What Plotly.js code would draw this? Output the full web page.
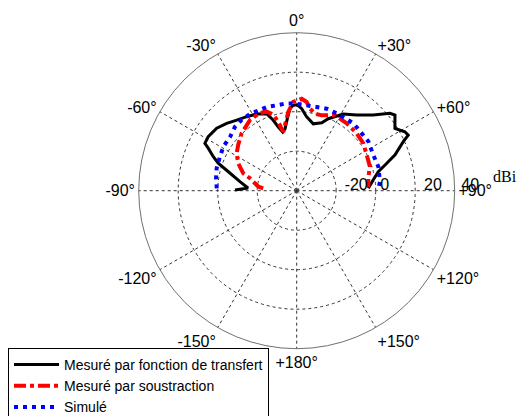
<!DOCTYPE html>
<html>
<head>
<meta charset="utf-8">
<script src="https://cdn.plot.ly/plotly-3.0.1.min.js"></script>
<style>
html,body{margin:0;padding:0;background:#fff;overflow:hidden;width:519px;height:416px;}
#wrap{width:519px;height:416px;overflow:hidden;position:relative;}
#chart{width:519px;height:430px;}
</style>
</head>
<body>
<div id="wrap"><div id="chart"></div></div>
<script>
// Angles in degrees (0 = top, clockwise positive), gain in dBi
const blackTheta = [-89.4,-86.8,-81.0,-74.5,-70.7,-67.8,-64.4,-62.7,-58.6,-52.0,-46.1,-40.3,-34.0,-27.5,-21.3,-18.4,-16.1,-13.4,-10.7,-7.4,-4.7,-2.3,0.4,3.5,7.7,13.9,20.2,23.7,31.3,38.4,45.3,50.3,52.4,57.6,61.4,63.5,65.3,70.0,73.8,76.9,82.0,88.1];
const blackR     = [-8.8,-15.3,-10.9,-4.1,2.1,5.6,9.6,12.3,12.5,11.4,9.2,6.9,5.2,3.8,1.8,-2.4,-6.4,-9.5,-8.1,-3.2,1.7,3.3,3.5,1.6,-2.3,-5.1,-3.3,-0.2,5.4,8.9,14.5,21.4,22.8,18.9,22.4,23.1,19.4,13.0,6.6,2.4,-0.9,-3.7];

const redTheta = [-85.9,-84.1,-79.9,-75.1,-71.9,-64.9,-58.1,-52.0,-43.8,-33.4,-26.0,-21.0,-17.1,-15.0,-12.9,-6.1,-2.2,3.1,6.4,9.2,13.4,18.3,26.8,36.6,46.3,54.6,63.0,71.9,78.9,87.3];
const redR     = [-23.0,-20.5,-18.5,-15.5,-11.5,-7.3,-4.2,-2.4,0.3,2.9,3.5,3.0,0.3,-4.0,-9.5,0.1,5.0,6.6,5.2,2.1,0.1,0.2,2.9,2.5,2.0,1.4,-0.2,-1.0,-3.0,-3.7];

const blueTheta = [-88.3,-81.3,-74.4,-66.1,-59.1,-51.0,-44.0,-37.9,-31.3,-19.7,-13.2,-7.7,-1.1,6.7,13.4,20.1,27.3,40.0,48.6,55.6,65.0,73.6,83.8,89.0];
const blueR     = [0.5,1.3,2.1,2.5,3.3,3.4,5.0,5.4,5.5,5.0,4.4,4.5,4.1,3.5,3.6,4.2,4.1,4.6,3.9,4.0,2.8,3.1,2.4,1.3];

const seriesNames = ['Mesuré par fonction de transfert','Mesuré par soustraction','Simulé'];

const angTickVals = [0,30,60,90,120,150,180,210,240,270,300,330];
const angTickText = ['0°','+30°','+60°','+90°','+120°','+150°','+180°','-150°','-120°','-90°','-60°','-30°'];

const radTickVals = [-20,0,20,40];
const radTickLabels = ['-20','0','20','40'];
const radPad = [9,4,8,7];
const radTickText = radTickLabels.map((t,i)=>'<span style="baseline-shift:-3px">'+'\u00a0'.repeat(radPad[i])+t+'</span>');

const traces = [
  {type:'scatterpolar', mode:'lines', theta:blackTheta, r:blackR, name:seriesNames[0],
   line:{color:'#000000', width:3}},
  {type:'scatterpolar', mode:'lines', theta:redTheta, r:redR, name:seriesNames[1],
   line:{color:'#ff0000', width:4, dash:'12px,4px,4px,4px'}},
  {type:'scatterpolar', mode:'lines', theta:blueTheta, r:blueR, name:seriesNames[2],
   line:{color:'#0000ff', width:4, dash:'4px,5px'}}
];

const H = 430;
const layout = {
  width:519, height:H,
  margin:{l:0,r:0,t:0,b:0},
  paper_bgcolor:'#ffffff',
  font:{family:'Liberation Sans, Arial, sans-serif', size:16, color:'#000'},
  showlegend:true,
  polar:{
    domain:{x:[138.7/519, 454.7/519], y:[1-348.7/H, 1-32.7/H]},
    bgcolor:'#ffffff',
    angularaxis:{
      rotation:90, direction:'clockwise', thetaunit:'degrees',
      tickmode:'array', tickvals:angTickVals, ticktext:angTickText,
      ticks:'', showline:true, linecolor:'#707070', linewidth:1,
      showgrid:true, gridcolor:'#333333', gridwidth:1, griddash:'3px,3px',
      tickfont:{size:16, color:'#000'}
    },
    radialaxis:{
      range:[-40,40], tickmode:'array', tickvals:radTickVals, ticktext:radTickText,
      angle:0, tickangle:0, side:'counterclockwise', ticks:'', showline:false,
      showgrid:true, gridcolor:'#333333', gridwidth:1, griddash:'3px,3px',
      tickfont:{size:16, color:'#000'}
    }
  },
  legend:{
    x:8/519, y:1-348/H, xanchor:'left', yanchor:'top',
    bordercolor:'#000', borderwidth:1, bgcolor:'#ffffff',
    font:{size:14, color:'#000'}, itemwidth:45, tracegroupgap:0
  },
  annotations:[{
    text:'dBi', xref:'paper', yref:'paper', x:505/519, y:1-176/H,
    xanchor:'center', yanchor:'middle',
    showarrow:false, font:{family:'Liberation Serif, Times New Roman, serif', size:16, color:'#000'}
  }]
};

Plotly.newPlot('chart', traces, layout, {displayModeBar:false, staticPlot:true});
</script>
</body>
</html>
